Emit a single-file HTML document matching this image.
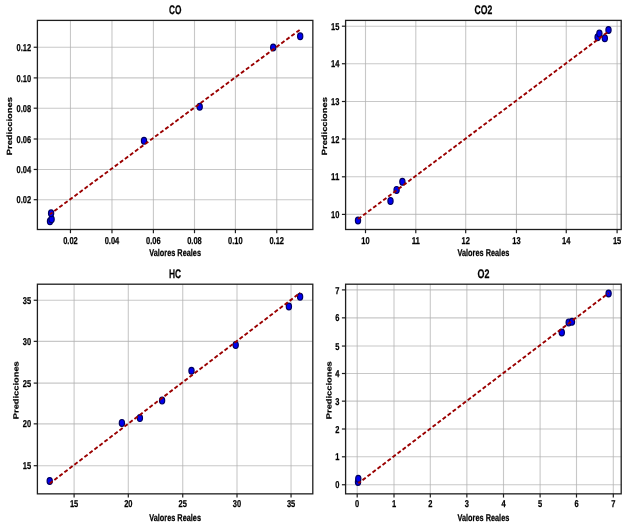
<!DOCTYPE html>
<html><head><meta charset="utf-8"><style>
html,body{margin:0;padding:0;background:#fff;}
svg{display:block;will-change:transform;}
text{font-family:"Liberation Sans",sans-serif;fill:#000;text-rendering:geometricPrecision;stroke:#000;stroke-width:0.25px;}
</style></head><body>
<svg width="628" height="524" viewBox="0 0 628 524">
<line x1="70.45" y1="20.40" x2="70.45" y2="229.50" stroke="#b0b0b0" stroke-width="1.1" stroke-opacity="0.7"/>
<line x1="111.98" y1="20.40" x2="111.98" y2="229.50" stroke="#b0b0b0" stroke-width="1.1" stroke-opacity="0.7"/>
<line x1="153.40" y1="20.40" x2="153.40" y2="229.50" stroke="#b0b0b0" stroke-width="1.1" stroke-opacity="0.7"/>
<line x1="194.50" y1="20.40" x2="194.50" y2="229.50" stroke="#b0b0b0" stroke-width="1.1" stroke-opacity="0.7"/>
<line x1="235.41" y1="20.40" x2="235.41" y2="229.50" stroke="#b0b0b0" stroke-width="1.1" stroke-opacity="0.7"/>
<line x1="276.75" y1="20.40" x2="276.75" y2="229.50" stroke="#b0b0b0" stroke-width="1.1" stroke-opacity="0.7"/>
<line x1="37.40" y1="199.70" x2="312.85" y2="199.70" stroke="#b0b0b0" stroke-width="1.1" stroke-opacity="0.7"/>
<line x1="37.40" y1="169.46" x2="312.85" y2="169.46" stroke="#b0b0b0" stroke-width="1.1" stroke-opacity="0.7"/>
<line x1="37.40" y1="139.00" x2="312.85" y2="139.00" stroke="#b0b0b0" stroke-width="1.1" stroke-opacity="0.7"/>
<line x1="37.40" y1="108.20" x2="312.85" y2="108.20" stroke="#b0b0b0" stroke-width="1.1" stroke-opacity="0.7"/>
<line x1="37.40" y1="77.90" x2="312.85" y2="77.90" stroke="#b0b0b0" stroke-width="1.1" stroke-opacity="0.7"/>
<line x1="37.40" y1="47.25" x2="312.85" y2="47.25" stroke="#b0b0b0" stroke-width="1.1" stroke-opacity="0.7"/>
<ellipse cx="50.00" cy="221.30" rx="2.6" ry="3.4" fill="#0000f0" stroke="#000060" stroke-width="1.2"/>
<ellipse cx="51.60" cy="219.20" rx="2.6" ry="3.4" fill="#0000f0" stroke="#000060" stroke-width="1.2"/>
<ellipse cx="51.10" cy="213.30" rx="2.6" ry="3.4" fill="#0000f0" stroke="#000060" stroke-width="1.2"/>
<ellipse cx="144.00" cy="140.80" rx="2.6" ry="3.4" fill="#0000f0" stroke="#000060" stroke-width="1.2"/>
<ellipse cx="199.70" cy="106.70" rx="2.6" ry="3.4" fill="#0000f0" stroke="#000060" stroke-width="1.2"/>
<ellipse cx="273.20" cy="47.50" rx="2.6" ry="3.4" fill="#0000f0" stroke="#000060" stroke-width="1.2"/>
<ellipse cx="300.20" cy="36.30" rx="2.6" ry="3.4" fill="#0000f0" stroke="#000060" stroke-width="1.2"/>
<line x1="300.20" y1="29.50" x2="49.97" y2="214.25" stroke="#9a0000" stroke-width="1.9" stroke-dasharray="4.0 2.27" stroke-dashoffset="-0.7"/>
<rect x="37.40" y="20.40" width="275.45" height="209.10" fill="none" stroke="#1e1e1e" stroke-width="1.3"/>
<line x1="70.45" y1="229.50" x2="70.45" y2="233.20" stroke="#1e1e1e" stroke-width="1.2"/>
<text transform="translate(70.45,243.60) scale(0.7494,1)" text-anchor="middle" font-size="10.0" font-weight="bold">0.02</text>
<line x1="111.98" y1="229.50" x2="111.98" y2="233.20" stroke="#1e1e1e" stroke-width="1.2"/>
<text transform="translate(111.98,243.60) scale(0.7494,1)" text-anchor="middle" font-size="10.0" font-weight="bold">0.04</text>
<line x1="153.40" y1="229.50" x2="153.40" y2="233.20" stroke="#1e1e1e" stroke-width="1.2"/>
<text transform="translate(153.40,243.60) scale(0.7494,1)" text-anchor="middle" font-size="10.0" font-weight="bold">0.06</text>
<line x1="194.50" y1="229.50" x2="194.50" y2="233.20" stroke="#1e1e1e" stroke-width="1.2"/>
<text transform="translate(194.50,243.60) scale(0.7494,1)" text-anchor="middle" font-size="10.0" font-weight="bold">0.08</text>
<line x1="235.41" y1="229.50" x2="235.41" y2="233.20" stroke="#1e1e1e" stroke-width="1.2"/>
<text transform="translate(235.41,243.60) scale(0.7494,1)" text-anchor="middle" font-size="10.0" font-weight="bold">0.10</text>
<line x1="276.75" y1="229.50" x2="276.75" y2="233.20" stroke="#1e1e1e" stroke-width="1.2"/>
<text transform="translate(276.75,243.60) scale(0.7494,1)" text-anchor="middle" font-size="10.0" font-weight="bold">0.12</text>
<line x1="33.70" y1="199.70" x2="37.40" y2="199.70" stroke="#1e1e1e" stroke-width="1.2"/>
<text transform="translate(31.20,203.30) scale(0.7494,1)" text-anchor="end" font-size="10.0" font-weight="bold">0.02</text>
<line x1="33.70" y1="169.46" x2="37.40" y2="169.46" stroke="#1e1e1e" stroke-width="1.2"/>
<text transform="translate(31.20,173.06) scale(0.7494,1)" text-anchor="end" font-size="10.0" font-weight="bold">0.04</text>
<line x1="33.70" y1="139.00" x2="37.40" y2="139.00" stroke="#1e1e1e" stroke-width="1.2"/>
<text transform="translate(31.20,142.60) scale(0.7494,1)" text-anchor="end" font-size="10.0" font-weight="bold">0.06</text>
<line x1="33.70" y1="108.20" x2="37.40" y2="108.20" stroke="#1e1e1e" stroke-width="1.2"/>
<text transform="translate(31.20,111.80) scale(0.7494,1)" text-anchor="end" font-size="10.0" font-weight="bold">0.08</text>
<line x1="33.70" y1="77.90" x2="37.40" y2="77.90" stroke="#1e1e1e" stroke-width="1.2"/>
<text transform="translate(31.20,81.50) scale(0.7494,1)" text-anchor="end" font-size="10.0" font-weight="bold">0.10</text>
<line x1="33.70" y1="47.25" x2="37.40" y2="47.25" stroke="#1e1e1e" stroke-width="1.2"/>
<text transform="translate(31.20,50.85) scale(0.7494,1)" text-anchor="end" font-size="10.0" font-weight="bold">0.12</text>
<text transform="translate(175.12,14.40) scale(0.6701,1)" text-anchor="middle" font-size="12.4" font-weight="bold">CO</text>
<text transform="translate(175.12,256.40) scale(0.7483,1)" text-anchor="middle" font-size="9.8" font-weight="bold">Valores Reales</text>
<text transform="translate(11.90,126.15) scale(0.77,1) rotate(-89.95) scale(0.9504,1)" text-anchor="middle" font-size="9.8" font-weight="bold">Predicciones</text>
<line x1="365.50" y1="20.40" x2="365.50" y2="229.50" stroke="#b0b0b0" stroke-width="1.1" stroke-opacity="0.7"/>
<line x1="415.80" y1="20.40" x2="415.80" y2="229.50" stroke="#b0b0b0" stroke-width="1.1" stroke-opacity="0.7"/>
<line x1="465.70" y1="20.40" x2="465.70" y2="229.50" stroke="#b0b0b0" stroke-width="1.1" stroke-opacity="0.7"/>
<line x1="516.45" y1="20.40" x2="516.45" y2="229.50" stroke="#b0b0b0" stroke-width="1.1" stroke-opacity="0.7"/>
<line x1="566.25" y1="20.40" x2="566.25" y2="229.50" stroke="#b0b0b0" stroke-width="1.1" stroke-opacity="0.7"/>
<line x1="617.10" y1="20.40" x2="617.10" y2="229.50" stroke="#b0b0b0" stroke-width="1.1" stroke-opacity="0.7"/>
<line x1="345.60" y1="214.40" x2="621.20" y2="214.40" stroke="#b0b0b0" stroke-width="1.1" stroke-opacity="0.7"/>
<line x1="345.60" y1="176.80" x2="621.20" y2="176.80" stroke="#b0b0b0" stroke-width="1.1" stroke-opacity="0.7"/>
<line x1="345.60" y1="139.00" x2="621.20" y2="139.00" stroke="#b0b0b0" stroke-width="1.1" stroke-opacity="0.7"/>
<line x1="345.60" y1="101.50" x2="621.20" y2="101.50" stroke="#b0b0b0" stroke-width="1.1" stroke-opacity="0.7"/>
<line x1="345.60" y1="63.74" x2="621.20" y2="63.74" stroke="#b0b0b0" stroke-width="1.1" stroke-opacity="0.7"/>
<line x1="345.60" y1="26.20" x2="621.20" y2="26.20" stroke="#b0b0b0" stroke-width="1.1" stroke-opacity="0.7"/>
<ellipse cx="358.00" cy="220.50" rx="2.6" ry="3.4" fill="#0000f0" stroke="#000060" stroke-width="1.2"/>
<ellipse cx="390.50" cy="200.90" rx="2.6" ry="3.4" fill="#0000f0" stroke="#000060" stroke-width="1.2"/>
<ellipse cx="396.60" cy="189.90" rx="2.6" ry="3.4" fill="#0000f0" stroke="#000060" stroke-width="1.2"/>
<ellipse cx="402.40" cy="181.80" rx="2.6" ry="3.4" fill="#0000f0" stroke="#000060" stroke-width="1.2"/>
<ellipse cx="597.60" cy="37.20" rx="2.6" ry="3.4" fill="#0000f0" stroke="#000060" stroke-width="1.2"/>
<ellipse cx="599.40" cy="33.60" rx="2.6" ry="3.4" fill="#0000f0" stroke="#000060" stroke-width="1.2"/>
<ellipse cx="604.80" cy="38.30" rx="2.6" ry="3.4" fill="#0000f0" stroke="#000060" stroke-width="1.2"/>
<ellipse cx="608.50" cy="30.00" rx="2.6" ry="3.4" fill="#0000f0" stroke="#000060" stroke-width="1.2"/>
<line x1="608.50" y1="31.46" x2="358.00" y2="219.22" stroke="#9a0000" stroke-width="1.9" stroke-dasharray="4.0 2.27" stroke-dashoffset="-1.65"/>
<rect x="345.60" y="20.40" width="275.60" height="209.10" fill="none" stroke="#1e1e1e" stroke-width="1.3"/>
<line x1="365.50" y1="229.50" x2="365.50" y2="233.20" stroke="#1e1e1e" stroke-width="1.2"/>
<text transform="translate(365.50,243.60) scale(0.7493,1)" text-anchor="middle" font-size="10.0" font-weight="bold">10</text>
<line x1="415.80" y1="229.50" x2="415.80" y2="233.20" stroke="#1e1e1e" stroke-width="1.2"/>
<text transform="translate(415.80,243.60) scale(0.7884,1)" text-anchor="middle" font-size="10.0" font-weight="bold">11</text>
<line x1="465.70" y1="229.50" x2="465.70" y2="233.20" stroke="#1e1e1e" stroke-width="1.2"/>
<text transform="translate(465.70,243.60) scale(0.7493,1)" text-anchor="middle" font-size="10.0" font-weight="bold">12</text>
<line x1="516.45" y1="229.50" x2="516.45" y2="233.20" stroke="#1e1e1e" stroke-width="1.2"/>
<text transform="translate(516.45,243.60) scale(0.7493,1)" text-anchor="middle" font-size="10.0" font-weight="bold">13</text>
<line x1="566.25" y1="229.50" x2="566.25" y2="233.20" stroke="#1e1e1e" stroke-width="1.2"/>
<text transform="translate(566.25,243.60) scale(0.7493,1)" text-anchor="middle" font-size="10.0" font-weight="bold">14</text>
<line x1="617.10" y1="229.50" x2="617.10" y2="233.20" stroke="#1e1e1e" stroke-width="1.2"/>
<text transform="translate(617.10,243.60) scale(0.7493,1)" text-anchor="middle" font-size="10.0" font-weight="bold">15</text>
<line x1="341.90" y1="214.40" x2="345.60" y2="214.40" stroke="#1e1e1e" stroke-width="1.2"/>
<text transform="translate(339.40,218.00) scale(0.7493,1)" text-anchor="end" font-size="10.0" font-weight="bold">10</text>
<line x1="341.90" y1="176.80" x2="345.60" y2="176.80" stroke="#1e1e1e" stroke-width="1.2"/>
<text transform="translate(339.40,180.40) scale(0.7884,1)" text-anchor="end" font-size="10.0" font-weight="bold">11</text>
<line x1="341.90" y1="139.00" x2="345.60" y2="139.00" stroke="#1e1e1e" stroke-width="1.2"/>
<text transform="translate(339.40,142.60) scale(0.7493,1)" text-anchor="end" font-size="10.0" font-weight="bold">12</text>
<line x1="341.90" y1="101.50" x2="345.60" y2="101.50" stroke="#1e1e1e" stroke-width="1.2"/>
<text transform="translate(339.40,105.10) scale(0.7493,1)" text-anchor="end" font-size="10.0" font-weight="bold">13</text>
<line x1="341.90" y1="63.74" x2="345.60" y2="63.74" stroke="#1e1e1e" stroke-width="1.2"/>
<text transform="translate(339.40,67.34) scale(0.7493,1)" text-anchor="end" font-size="10.0" font-weight="bold">14</text>
<line x1="341.90" y1="26.20" x2="345.60" y2="26.20" stroke="#1e1e1e" stroke-width="1.2"/>
<text transform="translate(339.40,29.80) scale(0.7493,1)" text-anchor="end" font-size="10.0" font-weight="bold">15</text>
<text transform="translate(483.40,14.40) scale(0.6982,1)" text-anchor="middle" font-size="12.4" font-weight="bold">CO2</text>
<text transform="translate(483.40,256.40) scale(0.7483,1)" text-anchor="middle" font-size="9.8" font-weight="bold">Valores Reales</text>
<text transform="translate(327.00,126.15) scale(0.77,1) rotate(-89.95) scale(0.9504,1)" text-anchor="middle" font-size="9.8" font-weight="bold">Predicciones</text>
<line x1="74.10" y1="284.20" x2="74.10" y2="493.85" stroke="#b0b0b0" stroke-width="1.1" stroke-opacity="0.7"/>
<line x1="128.30" y1="284.20" x2="128.30" y2="493.85" stroke="#b0b0b0" stroke-width="1.1" stroke-opacity="0.7"/>
<line x1="182.73" y1="284.20" x2="182.73" y2="493.85" stroke="#b0b0b0" stroke-width="1.1" stroke-opacity="0.7"/>
<line x1="237.00" y1="284.20" x2="237.00" y2="493.85" stroke="#b0b0b0" stroke-width="1.1" stroke-opacity="0.7"/>
<line x1="291.05" y1="284.20" x2="291.05" y2="493.85" stroke="#b0b0b0" stroke-width="1.1" stroke-opacity="0.7"/>
<line x1="37.40" y1="465.70" x2="312.80" y2="465.70" stroke="#b0b0b0" stroke-width="1.1" stroke-opacity="0.7"/>
<line x1="37.40" y1="423.85" x2="312.80" y2="423.85" stroke="#b0b0b0" stroke-width="1.1" stroke-opacity="0.7"/>
<line x1="37.40" y1="383.10" x2="312.80" y2="383.10" stroke="#b0b0b0" stroke-width="1.1" stroke-opacity="0.7"/>
<line x1="37.40" y1="341.35" x2="312.80" y2="341.35" stroke="#b0b0b0" stroke-width="1.1" stroke-opacity="0.7"/>
<line x1="37.40" y1="300.25" x2="312.80" y2="300.25" stroke="#b0b0b0" stroke-width="1.1" stroke-opacity="0.7"/>
<ellipse cx="49.70" cy="481.00" rx="2.6" ry="3.4" fill="#0000f0" stroke="#000060" stroke-width="1.2"/>
<ellipse cx="121.90" cy="422.90" rx="2.6" ry="3.4" fill="#0000f0" stroke="#000060" stroke-width="1.2"/>
<ellipse cx="139.90" cy="418.10" rx="2.6" ry="3.4" fill="#0000f0" stroke="#000060" stroke-width="1.2"/>
<ellipse cx="162.10" cy="400.60" rx="2.6" ry="3.4" fill="#0000f0" stroke="#000060" stroke-width="1.2"/>
<ellipse cx="191.50" cy="370.80" rx="2.6" ry="3.4" fill="#0000f0" stroke="#000060" stroke-width="1.2"/>
<ellipse cx="235.70" cy="345.10" rx="2.6" ry="3.4" fill="#0000f0" stroke="#000060" stroke-width="1.2"/>
<ellipse cx="288.90" cy="306.50" rx="2.6" ry="3.4" fill="#0000f0" stroke="#000060" stroke-width="1.2"/>
<ellipse cx="300.10" cy="296.70" rx="2.6" ry="3.4" fill="#0000f0" stroke="#000060" stroke-width="1.2"/>
<line x1="300.20" y1="292.81" x2="49.70" y2="483.50" stroke="#9a0000" stroke-width="1.9" stroke-dasharray="4.02 2.27" stroke-dashoffset="3.29"/>
<rect x="37.40" y="284.20" width="275.40" height="209.65" fill="none" stroke="#1e1e1e" stroke-width="1.3"/>
<line x1="74.10" y1="493.85" x2="74.10" y2="497.55" stroke="#1e1e1e" stroke-width="1.2"/>
<text transform="translate(74.10,507.25) scale(0.7493,1)" text-anchor="middle" font-size="10.0" font-weight="bold">15</text>
<line x1="128.30" y1="493.85" x2="128.30" y2="497.55" stroke="#1e1e1e" stroke-width="1.2"/>
<text transform="translate(128.30,507.25) scale(0.7493,1)" text-anchor="middle" font-size="10.0" font-weight="bold">20</text>
<line x1="182.73" y1="493.85" x2="182.73" y2="497.55" stroke="#1e1e1e" stroke-width="1.2"/>
<text transform="translate(182.73,507.25) scale(0.7493,1)" text-anchor="middle" font-size="10.0" font-weight="bold">25</text>
<line x1="237.00" y1="493.85" x2="237.00" y2="497.55" stroke="#1e1e1e" stroke-width="1.2"/>
<text transform="translate(237.00,507.25) scale(0.7493,1)" text-anchor="middle" font-size="10.0" font-weight="bold">30</text>
<line x1="291.05" y1="493.85" x2="291.05" y2="497.55" stroke="#1e1e1e" stroke-width="1.2"/>
<text transform="translate(291.05,507.25) scale(0.7493,1)" text-anchor="middle" font-size="10.0" font-weight="bold">35</text>
<line x1="33.70" y1="465.70" x2="37.40" y2="465.70" stroke="#1e1e1e" stroke-width="1.2"/>
<text transform="translate(31.20,469.30) scale(0.7493,1)" text-anchor="end" font-size="10.0" font-weight="bold">15</text>
<line x1="33.70" y1="423.85" x2="37.40" y2="423.85" stroke="#1e1e1e" stroke-width="1.2"/>
<text transform="translate(31.20,427.45) scale(0.7493,1)" text-anchor="end" font-size="10.0" font-weight="bold">20</text>
<line x1="33.70" y1="383.10" x2="37.40" y2="383.10" stroke="#1e1e1e" stroke-width="1.2"/>
<text transform="translate(31.20,386.70) scale(0.7493,1)" text-anchor="end" font-size="10.0" font-weight="bold">25</text>
<line x1="33.70" y1="341.35" x2="37.40" y2="341.35" stroke="#1e1e1e" stroke-width="1.2"/>
<text transform="translate(31.20,344.95) scale(0.7493,1)" text-anchor="end" font-size="10.0" font-weight="bold">30</text>
<line x1="33.70" y1="300.25" x2="37.40" y2="300.25" stroke="#1e1e1e" stroke-width="1.2"/>
<text transform="translate(31.20,303.85) scale(0.7493,1)" text-anchor="end" font-size="10.0" font-weight="bold">35</text>
<text transform="translate(175.10,278.20) scale(0.6795,1)" text-anchor="middle" font-size="12.4" font-weight="bold">HC</text>
<text transform="translate(175.10,520.75) scale(0.7483,1)" text-anchor="middle" font-size="9.8" font-weight="bold">Valores Reales</text>
<text transform="translate(18.60,390.22) scale(0.77,1) rotate(-89.95) scale(0.9504,1)" text-anchor="middle" font-size="9.8" font-weight="bold">Predicciones</text>
<line x1="357.20" y1="284.20" x2="357.20" y2="493.85" stroke="#b0b0b0" stroke-width="1.1" stroke-opacity="0.7"/>
<line x1="394.00" y1="284.20" x2="394.00" y2="493.85" stroke="#b0b0b0" stroke-width="1.1" stroke-opacity="0.7"/>
<line x1="430.30" y1="284.20" x2="430.30" y2="493.85" stroke="#b0b0b0" stroke-width="1.1" stroke-opacity="0.7"/>
<line x1="466.85" y1="284.20" x2="466.85" y2="493.85" stroke="#b0b0b0" stroke-width="1.1" stroke-opacity="0.7"/>
<line x1="503.50" y1="284.20" x2="503.50" y2="493.85" stroke="#b0b0b0" stroke-width="1.1" stroke-opacity="0.7"/>
<line x1="540.10" y1="284.20" x2="540.10" y2="493.85" stroke="#b0b0b0" stroke-width="1.1" stroke-opacity="0.7"/>
<line x1="576.50" y1="284.20" x2="576.50" y2="493.85" stroke="#b0b0b0" stroke-width="1.1" stroke-opacity="0.7"/>
<line x1="613.30" y1="284.20" x2="613.30" y2="493.85" stroke="#b0b0b0" stroke-width="1.1" stroke-opacity="0.7"/>
<line x1="345.60" y1="484.75" x2="621.20" y2="484.75" stroke="#b0b0b0" stroke-width="1.1" stroke-opacity="0.7"/>
<line x1="345.60" y1="456.80" x2="621.20" y2="456.80" stroke="#b0b0b0" stroke-width="1.1" stroke-opacity="0.7"/>
<line x1="345.60" y1="429.00" x2="621.20" y2="429.00" stroke="#b0b0b0" stroke-width="1.1" stroke-opacity="0.7"/>
<line x1="345.60" y1="401.15" x2="621.20" y2="401.15" stroke="#b0b0b0" stroke-width="1.1" stroke-opacity="0.7"/>
<line x1="345.60" y1="373.50" x2="621.20" y2="373.50" stroke="#b0b0b0" stroke-width="1.1" stroke-opacity="0.7"/>
<line x1="345.60" y1="346.05" x2="621.20" y2="346.05" stroke="#b0b0b0" stroke-width="1.1" stroke-opacity="0.7"/>
<line x1="345.60" y1="317.85" x2="621.20" y2="317.85" stroke="#b0b0b0" stroke-width="1.1" stroke-opacity="0.7"/>
<line x1="345.60" y1="289.90" x2="621.20" y2="289.90" stroke="#b0b0b0" stroke-width="1.1" stroke-opacity="0.7"/>
<ellipse cx="358.00" cy="482.00" rx="2.6" ry="3.4" fill="#0000f0" stroke="#000060" stroke-width="1.2"/>
<ellipse cx="358.30" cy="478.80" rx="2.6" ry="3.4" fill="#0000f0" stroke="#000060" stroke-width="1.2"/>
<ellipse cx="561.80" cy="332.50" rx="2.6" ry="3.4" fill="#0000f0" stroke="#000060" stroke-width="1.2"/>
<ellipse cx="568.70" cy="322.40" rx="2.6" ry="3.4" fill="#0000f0" stroke="#000060" stroke-width="1.2"/>
<ellipse cx="572.00" cy="321.80" rx="2.6" ry="3.4" fill="#0000f0" stroke="#000060" stroke-width="1.2"/>
<ellipse cx="608.60" cy="293.50" rx="2.6" ry="3.4" fill="#0000f0" stroke="#000060" stroke-width="1.2"/>
<line x1="608.60" y1="293.08" x2="358.30" y2="483.33" stroke="#9a0000" stroke-width="1.9" stroke-dasharray="4.02 2.27" stroke-dashoffset="3.12"/>
<rect x="345.60" y="284.20" width="275.60" height="209.65" fill="none" stroke="#1e1e1e" stroke-width="1.3"/>
<line x1="357.20" y1="493.85" x2="357.20" y2="497.55" stroke="#1e1e1e" stroke-width="1.2"/>
<text transform="translate(357.20,507.25) scale(0.7493,1)" text-anchor="middle" font-size="10.0" font-weight="bold">0</text>
<line x1="394.00" y1="493.85" x2="394.00" y2="497.55" stroke="#1e1e1e" stroke-width="1.2"/>
<text transform="translate(394.00,507.25) scale(0.7493,1)" text-anchor="middle" font-size="10.0" font-weight="bold">1</text>
<line x1="430.30" y1="493.85" x2="430.30" y2="497.55" stroke="#1e1e1e" stroke-width="1.2"/>
<text transform="translate(430.30,507.25) scale(0.7493,1)" text-anchor="middle" font-size="10.0" font-weight="bold">2</text>
<line x1="466.85" y1="493.85" x2="466.85" y2="497.55" stroke="#1e1e1e" stroke-width="1.2"/>
<text transform="translate(466.85,507.25) scale(0.7493,1)" text-anchor="middle" font-size="10.0" font-weight="bold">3</text>
<line x1="503.50" y1="493.85" x2="503.50" y2="497.55" stroke="#1e1e1e" stroke-width="1.2"/>
<text transform="translate(503.50,507.25) scale(0.7493,1)" text-anchor="middle" font-size="10.0" font-weight="bold">4</text>
<line x1="540.10" y1="493.85" x2="540.10" y2="497.55" stroke="#1e1e1e" stroke-width="1.2"/>
<text transform="translate(540.10,507.25) scale(0.7493,1)" text-anchor="middle" font-size="10.0" font-weight="bold">5</text>
<line x1="576.50" y1="493.85" x2="576.50" y2="497.55" stroke="#1e1e1e" stroke-width="1.2"/>
<text transform="translate(576.50,507.25) scale(0.7493,1)" text-anchor="middle" font-size="10.0" font-weight="bold">6</text>
<line x1="613.30" y1="493.85" x2="613.30" y2="497.55" stroke="#1e1e1e" stroke-width="1.2"/>
<text transform="translate(613.30,507.25) scale(0.7493,1)" text-anchor="middle" font-size="10.0" font-weight="bold">7</text>
<line x1="341.90" y1="484.75" x2="345.60" y2="484.75" stroke="#1e1e1e" stroke-width="1.2"/>
<text transform="translate(339.40,488.35) scale(0.7493,1)" text-anchor="end" font-size="10.0" font-weight="bold">0</text>
<line x1="341.90" y1="456.80" x2="345.60" y2="456.80" stroke="#1e1e1e" stroke-width="1.2"/>
<text transform="translate(339.40,460.40) scale(0.7493,1)" text-anchor="end" font-size="10.0" font-weight="bold">1</text>
<line x1="341.90" y1="429.00" x2="345.60" y2="429.00" stroke="#1e1e1e" stroke-width="1.2"/>
<text transform="translate(339.40,432.60) scale(0.7493,1)" text-anchor="end" font-size="10.0" font-weight="bold">2</text>
<line x1="341.90" y1="401.15" x2="345.60" y2="401.15" stroke="#1e1e1e" stroke-width="1.2"/>
<text transform="translate(339.40,404.75) scale(0.7493,1)" text-anchor="end" font-size="10.0" font-weight="bold">3</text>
<line x1="341.90" y1="373.50" x2="345.60" y2="373.50" stroke="#1e1e1e" stroke-width="1.2"/>
<text transform="translate(339.40,377.10) scale(0.7493,1)" text-anchor="end" font-size="10.0" font-weight="bold">4</text>
<line x1="341.90" y1="346.05" x2="345.60" y2="346.05" stroke="#1e1e1e" stroke-width="1.2"/>
<text transform="translate(339.40,349.65) scale(0.7493,1)" text-anchor="end" font-size="10.0" font-weight="bold">5</text>
<line x1="341.90" y1="317.85" x2="345.60" y2="317.85" stroke="#1e1e1e" stroke-width="1.2"/>
<text transform="translate(339.40,321.45) scale(0.7493,1)" text-anchor="end" font-size="10.0" font-weight="bold">6</text>
<line x1="341.90" y1="289.90" x2="345.60" y2="289.90" stroke="#1e1e1e" stroke-width="1.2"/>
<text transform="translate(339.40,293.50) scale(0.7493,1)" text-anchor="end" font-size="10.0" font-weight="bold">7</text>
<text transform="translate(483.40,278.20) scale(0.7220,1)" text-anchor="middle" font-size="12.4" font-weight="bold">O2</text>
<text transform="translate(483.40,520.75) scale(0.7483,1)" text-anchor="middle" font-size="9.8" font-weight="bold">Valores Reales</text>
<text transform="translate(331.50,390.22) scale(0.77,1) rotate(-89.95) scale(0.9504,1)" text-anchor="middle" font-size="9.8" font-weight="bold">Predicciones</text>
</svg>
</body></html>
